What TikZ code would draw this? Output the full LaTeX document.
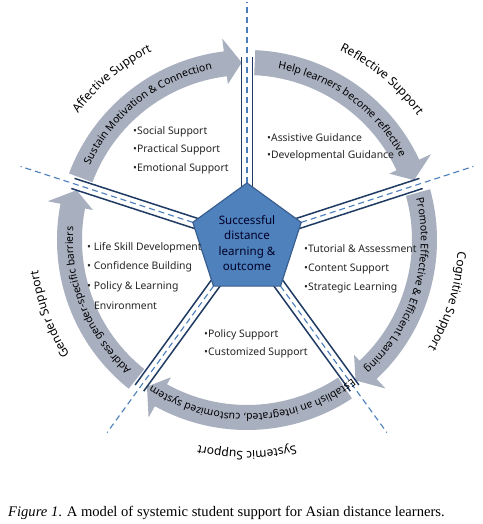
\documentclass[tikz,border=0pt]{standalone}
\usepackage{fontspec}
\setmainfont{Noto Sans}
\newfontfamily\capfont{Liberation Serif}
\usetikzlibrary{decorations.text}
\definecolor{bandc}{HTML}{A8AFBF}
\definecolor{navy}{HTML}{1F3B63}
\definecolor{dashc}{HTML}{4A7EBB}
\definecolor{pentf}{HTML}{4F81BD}
\definecolor{pentd}{HTML}{3A5F8F}
\definecolor{txt}{HTML}{262626}
\newcommand\bandfont{\fontsize{10.5}{12}\selectfont}
\newcommand\lblfont{\fontsize{12}{14}\selectfont}
\begin{document}
\begin{tikzpicture}[x=1pt,y=1pt,
  arrowband/.style={fill=bandc, draw=none},
  rail/.style={draw=navy, line width=1.5pt},
  axisline/.style={draw=dashc, line width=1.1pt, dash pattern=on 6pt off 4pt},
  bullet/.style={anchor=west, inner sep=0pt, font=\fontsize{10.4}{12}\selectfont, text=txt},
  pent/.style={fill=pentf, draw=pentd, line width=1.2pt, line join=miter},
  pentxt/.style={align=center, inner sep=0pt, font=\fontsize{11.6}{15.3}\selectfont, text=black!85!blue},
  captxt/.style={anchor=base west, inner sep=0pt, font=\capfont\fontsize{14.6}{16}\selectfont}
]
\useasboundingbox[fill=white] (-247,-284) rectangle (235,240);

% circular arrows
\foreach \a in {162,90,18,-54,-126}{
  \pgfmathsetmacro\t{\a-2.5}
  \pgfmathsetmacro\h{\a-72+7}
  \pgfmathsetmacro\p{\a-72+1.7}
  \fill[arrowband] (\t:190) arc[start angle=\t, end angle=\h, radius=190]
    -- (\h:203) -- (\p:177.5) -- (\h:157) -- (\h:165)
    arc[start angle=\h, end angle=\t, radius=165] -- cycle;
}

% radial rails and dashed axes
\foreach \a in {90,18,-54,-126,162}{
  \begin{scope}[rotate=\a]
    \fill[white] (50,-5.3) rectangle (183,5.3);
    \draw[rail] (50,5.3) -- (183,5.3);
    \draw[rail] (50,-5.3) -- (183,-5.3);
    \draw[axisline] (57,0) -- (238,0);
  \end{scope}
}

% central pentagon
\draw[pent] (90:57) -- (18:57) -- (-54:57) -- (-126:57) -- (162:57) -- cycle;
\node[pentxt] (core) at (0,-3) {Successful\\distance\\learning \&\\outcome};

% outer labels
\path[decorate, decoration={text along path, text align=center, text={|\lblfont|Affective Support}}]
  (200:211) arc[start angle=200, end angle=60, radius=211];
\path[decorate, decoration={text along path, text align=center, text={|\lblfont|Reflective Support}}]
  (120:211) arc[start angle=120, end angle=-20, radius=211];
\path[decorate, decoration={text along path, text align=center, text={|\lblfont|Cognitive Support}}]
  (53:211) arc[start angle=53, end angle=-87, radius=211];
\path[decorate, decoration={text along path, text align=center, text={|\lblfont|Systemic Support}}]
  (-20:211) arc[start angle=-20, end angle=-160, radius=211];
\path[decorate, decoration={text along path, text align=center, text={|\lblfont|Gender Support}}]
  (270.6:211) arc[start angle=270.6, end angle=130.6, radius=211];

% in-band labels
\path[decorate, decoration={text along path, text align=center, text={|\bandfont|Sustain Motivation {\&} Connection}}]
  (198:174) arc[start angle=198, end angle=58, radius=174];
\path[decorate, decoration={text along path, text align=center, text={|\bandfont|Help learners become reflective}}]
  (124:174) arc[start angle=124, end angle=-16, radius=174];
\path[decorate, decoration={text along path, text align=center, text={|\bandfont|Promote Effective {\&} Efficient Learning}}]
  (53:174) arc[start angle=53, end angle=-87, radius=174];
\path[decorate, decoration={text along path, text align=center, text={|\bandfont|Establish an integrated, customized system}}]
  (-18:174) arc[start angle=-18, end angle=-158, radius=174];
\path[decorate, decoration={text along path, text align=center, text={|\bandfont|Address gender-specific barriers}}]
  (272:174) arc[start angle=272, end angle=132, radius=174];

% bullet lists
\node[bullet] (a1) at (-114,108.3) {•Social Support};
\node[bullet] (a2) at (-114,90) {•Practical Support};
\node[bullet] (a3) at (-114,71) {•Emotional Support};
\node[bullet] (r1) at (20,102.3) {•Assistive Guidance};
\node[bullet] (r2) at (20,84) {•Developmental Guidance};
\node[bullet] (c1) at (57,-9) {•Tutorial \& Assessment};
\node[bullet] (c2) at (57,-29) {•Content Support};
\node[bullet] (c3) at (57,-48) {•Strategic Learning};
\node[bullet] (s1) at (-43,-95) {•Policy Support};
\node[bullet] (s2) at (-43,-113) {•Customized Support};
\node[bullet] (g1) at (-160,-8) {• Life Skill Development};
\node[bullet] (g2) at (-160,-27) {• Confidence Building};
\node[bullet] (g3) at (-160,-47) {• Policy \& Learning};
\node[bullet] (g4) at (-153,-66) {Environment};

% caption
\node[captxt] (cap) at (-239,-276) {\textit{Figure 1}. A model of systemic student support for Asian distance learners.};
\end{tikzpicture}
\end{document}
